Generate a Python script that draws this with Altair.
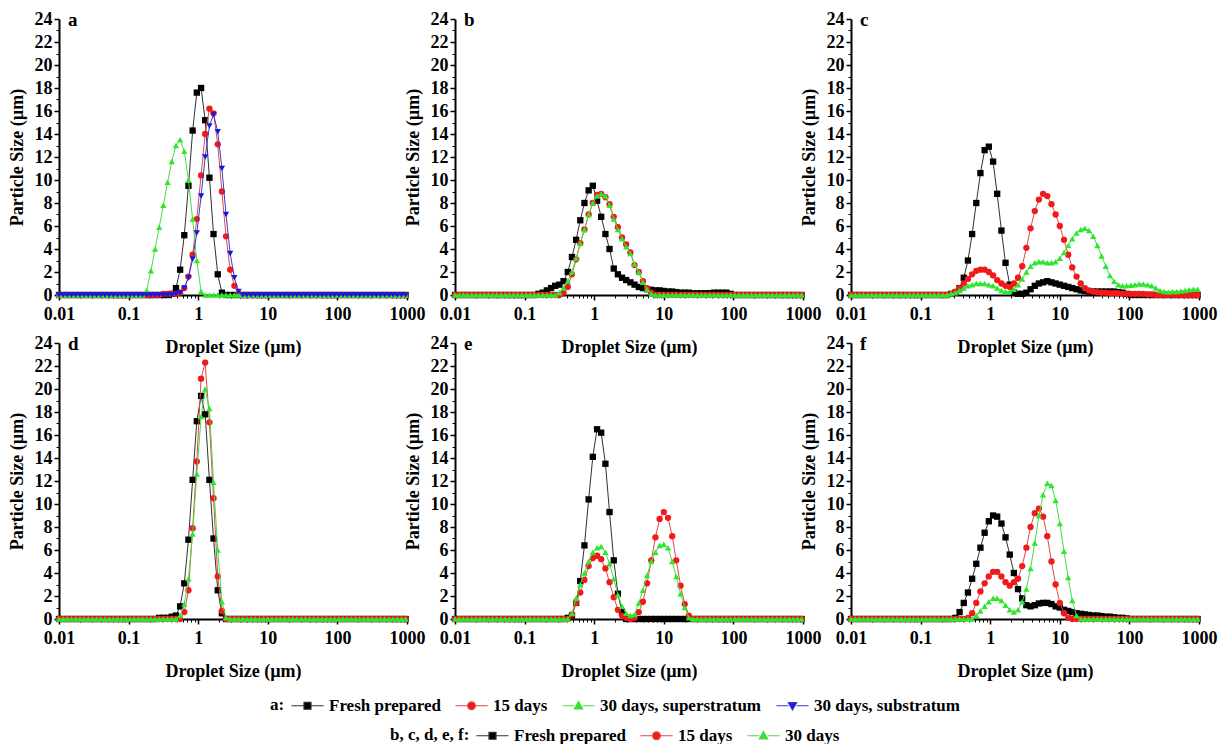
import altair as alt
import pandas as pd

# Droplet size bins (µm), log-spaced
SIZES = [0.0100, 0.0115, 0.0132, 0.0151, 0.0174, 0.0200, 0.0229, 0.0263, 0.0302, 0.0347,
         0.0398, 0.0457, 0.0525, 0.0603, 0.0692, 0.0794, 0.0912, 0.105, 0.120, 0.138,
         0.158, 0.182, 0.209, 0.240, 0.275, 0.316, 0.363, 0.417, 0.479, 0.550,
         0.631, 0.724, 0.832, 0.955, 1.10, 1.26, 1.45, 1.66, 1.91, 2.19,
         2.51, 2.88, 3.31, 3.80, 4.37, 5.01, 5.75, 6.61, 7.59, 8.71,
         10.0, 11.5, 13.2, 15.1, 17.4, 20.0, 22.9, 26.3, 30.2, 34.7,
         39.8, 45.7, 52.5, 60.3, 69.2, 79.4, 91.2, 105, 120, 138,
         158, 182, 209, 240, 275, 316, 363, 417, 479, 550,
         631, 724, 832, 955]

# ---- panel a ----
A_FRESH = [0, 0, 0, 0, 0, 0, 0, 0, 0, 0,
           0, 0, 0, 0, 0, 0, 0, 0, 0, 0,
           0, 0, 0, 0, 0, 0, 0, 0.1, 0.6, 2.2,
           5.2, 9.5, 14.3, 17.6, 18.0, 15.2, 10.2, 5.3, 1.8, 0.2,
           0, 0, 0, 0, 0, 0, 0, 0, 0, 0,
           0, 0, 0, 0, 0, 0, 0, 0, 0, 0,
           0, 0, 0, 0, 0, 0, 0, 0, 0, 0,
           0, 0, 0, 0, 0, 0, 0, 0, 0, 0,
           0, 0, 0, 0]
A_15D = [0, 0, 0, 0, 0, 0, 0, 0, 0, 0,
         0, 0, 0, 0, 0, 0, 0, 0, 0, 0,
         0, 0, 0, 0, 0, 0.1, 0.1, 0.1, 0.1, 0.2,
         0.6, 1.6, 3.5, 6.6, 10.4, 14.0, 16.2, 15.8, 13.1, 9.0,
         5.1, 2.2, 0.8, 0.1, 0, 0, 0, 0, 0, 0,
         0, 0, 0, 0, 0, 0, 0, 0, 0, 0,
         0, 0, 0, 0, 0, 0, 0, 0, 0, 0,
         0, 0, 0, 0, 0, 0, 0, 0, 0, 0,
         0, 0, 0, 0]
A_30SUP = [0, 0, 0, 0, 0, 0, 0, 0, 0, 0,
           0, 0, 0, 0, 0, 0, 0, 0, 0, 0,
           0, 0.4, 2.1, 4.0, 5.9, 7.8, 9.8, 11.6, 13.0, 13.5,
           12.5, 10.0, 6.6, 3.0, 0.3, 0, 0, 0, 0, 0,
           0, 0, 0, 0, 0, 0, 0, 0, 0, 0,
           0, 0, 0, 0, 0, 0, 0, 0, 0, 0,
           0, 0, 0, 0, 0, 0, 0, 0, 0, 0,
           0, 0, 0, 0, 0, 0, 0, 0, 0, 0,
           0, 0, 0, 0]
A_30SUB = [0, 0, 0, 0, 0, 0, 0, 0, 0, 0,
           0, 0, 0, 0, 0, 0, 0, 0, 0, 0,
           0, 0, 0, 0, 0, 0, 0, 0, 0.1, 0.2,
           0.6, 1.5, 3.1, 5.4, 8.6, 12.0, 14.7, 15.7, 14.2, 11.0,
           7.0, 3.6, 1.5, 0.3, 0, 0, 0, 0, 0, 0,
           0, 0, 0, 0, 0, 0, 0, 0, 0, 0,
           0, 0, 0, 0, 0, 0, 0, 0, 0, 0,
           0, 0, 0, 0, 0, 0, 0, 0, 0, 0,
           0, 0, 0, 0]

# ---- panel b ----
B_FRESH = [0, 0, 0, 0, 0, 0, 0, 0, 0, 0,
           0, 0, 0, 0, 0, 0, 0, 0, 0, 0,
           0.1, 0.2, 0.4, 0.6, 0.8, 0.9, 1.2, 2.0, 3.3, 4.8,
           6.5, 8.0, 9.1, 9.5, 8.2, 6.8, 5.3, 4.0, 2.3, 1.8,
           1.5, 1.3, 1.1, 0.9, 0.7, 0.6, 0.5, 0.45, 0.4, 0.4,
           0.35, 0.3, 0.3, 0.25, 0.2, 0.2, 0.2, 0.15, 0.15, 0.15,
           0.15, 0.15, 0.2, 0.2, 0.2, 0.2, 0.1, 0, 0, 0,
           0, 0, 0, 0, 0, 0, 0, 0, 0, 0,
           0, 0, 0, 0]
B_15D = [0, 0, 0, 0, 0, 0, 0, 0, 0, 0,
         0, 0, 0, 0, 0, 0, 0, 0, 0, 0,
         0, 0, 0, 0, 0, 0, 0.2, 0.7, 1.8, 3.1,
         4.5, 5.7, 7.0, 8.0, 8.7, 8.8, 8.5, 7.9, 6.8, 5.9,
         5.0, 4.4, 3.7, 2.6, 2.0, 1.2, 0.6, 0.2, 0, 0,
         0, 0, 0, 0, 0, 0, 0, 0, 0, 0,
         0, 0, 0, 0, 0, 0, 0, 0, 0, 0,
         0, 0, 0, 0, 0, 0, 0, 0, 0, 0,
         0, 0, 0, 0]
B_30D = [0, 0, 0, 0, 0, 0, 0, 0, 0, 0,
         0, 0, 0, 0, 0, 0, 0, 0, 0, 0,
         0, 0, 0, 0, 0, 0.2, 0.6, 1.2, 2.0, 3.2,
         4.5, 5.7, 7.0, 8.0, 8.6, 8.8, 8.6, 7.8, 6.6, 5.7,
         4.9, 4.2, 3.6, 2.7, 2.0, 1.1, 0.5, 0.1, 0, 0,
         0, 0, 0, 0, 0, 0, 0, 0, 0, 0,
         0, 0, 0, 0, 0, 0, 0, 0, 0, 0,
         0, 0, 0, 0, 0, 0, 0, 0, 0, 0,
         0, 0, 0, 0]

# ---- panel c ----
C_FRESH = [0, 0, 0, 0, 0, 0, 0, 0, 0, 0,
           0, 0, 0, 0, 0, 0, 0, 0, 0, 0,
           0, 0, 0, 0, 0.1, 0.2, 0.6, 1.5, 3.0, 5.3,
           8.0, 10.6, 12.6, 12.9, 11.6, 8.8, 5.6, 2.8, 0.9, 0.2,
           0.1, 0.1, 0.2, 0.5, 0.8, 1.0, 1.1, 1.2, 1.1, 1.0,
           0.9, 0.8, 0.7, 0.6, 0.5, 0.4, 0.35, 0.3, 0.3, 0.3,
           0.3, 0.3, 0.3, 0.3, 0.25, 0.2, 0.1, 0, 0, 0,
           0, 0, 0, 0, 0, 0, 0, 0, 0, 0,
           0, 0, 0, 0]
C_15D = [0, 0, 0, 0, 0, 0, 0, 0, 0, 0,
         0, 0, 0, 0, 0, 0, 0, 0, 0, 0,
         0, 0, 0, 0, 0.1, 0.3, 0.6, 1.0, 1.4, 1.8,
         2.1, 2.2, 2.2, 2.0, 1.7, 1.3, 1.0, 0.8, 0.7, 1.0,
         1.5, 2.5, 4.1, 5.8, 7.3, 8.3, 8.8, 8.6, 7.9, 7.0,
         6.0, 4.8, 3.5, 2.4, 1.6, 1.0, 0.6, 0.4, 0.3, 0.25,
         0.2, 0.2, 0.15, 0.15, 0.15, 0.1, 0.1, 0.1, 0.1, 0.1,
         0.1, 0.05, 0.05, 0, 0, 0, 0, 0, 0, 0,
         0, 0, 0, 0]
C_30D = [0, 0, 0, 0, 0, 0, 0, 0, 0, 0,
         0, 0, 0, 0, 0, 0, 0, 0, 0, 0,
         0, 0, 0, 0, 0.1, 0.2, 0.4, 0.6, 0.8, 0.9,
         1.0, 1.0, 1.0, 0.9, 0.8, 0.6, 0.4, 0.3, 0.3, 0.5,
         0.9, 1.4, 2.0, 2.5, 2.8, 2.9, 2.9, 2.8, 2.8, 2.9,
         3.2, 3.7, 4.3, 4.9, 5.4, 5.7, 5.8, 5.6, 5.1, 4.3,
         3.4, 2.5, 1.7, 1.2, 0.9, 0.8, 0.8, 0.85, 0.9, 0.95,
         0.95, 0.9, 0.8, 0.6, 0.4, 0.3, 0.25, 0.3, 0.3, 0.35,
         0.4, 0.45, 0.5, 0.5]

# ---- panel d ----
D_FRESH = [0, 0, 0, 0, 0, 0, 0, 0, 0, 0,
           0, 0, 0, 0, 0, 0, 0, 0, 0, 0,
           0, 0, 0, 0, 0.1, 0.1, 0.1, 0.2, 0.3, 1.1,
           3.1, 6.9, 12.1, 17.2, 19.4, 17.8, 12.1, 7.0, 2.5, 0.5,
           0, 0, 0, 0, 0, 0, 0, 0, 0, 0,
           0, 0, 0, 0, 0, 0, 0, 0, 0, 0,
           0, 0, 0, 0, 0, 0, 0, 0, 0, 0,
           0, 0, 0, 0, 0, 0, 0, 0, 0, 0,
           0, 0, 0, 0]
D_15D = [0, 0, 0, 0, 0, 0, 0, 0, 0, 0,
         0, 0, 0, 0, 0, 0, 0, 0, 0, 0,
         0, 0, 0, 0, 0, 0, 0, 0, 0, 0,
         0.6, 2.5, 7.9, 13.7, 20.9, 22.3, 17.1, 10.5, 3.7, 0.7,
         0, 0, 0, 0, 0, 0, 0, 0, 0, 0,
         0, 0, 0, 0, 0, 0, 0, 0, 0, 0,
         0, 0, 0, 0, 0, 0, 0, 0, 0, 0,
         0, 0, 0, 0, 0, 0, 0, 0, 0, 0,
         0, 0, 0, 0]
D_30D = [0, 0, 0, 0, 0, 0, 0, 0, 0, 0,
         0, 0, 0, 0, 0, 0, 0, 0, 0, 0,
         0, 0, 0, 0, 0, 0, 0, 0, 0, 0.3,
         1.3, 3.5, 7.4, 12.6, 17.6, 20.0, 18.3, 11.9, 6.0, 1.5,
         0.1, 0, 0, 0, 0, 0, 0, 0, 0, 0,
         0, 0, 0, 0, 0, 0, 0, 0, 0, 0,
         0, 0, 0, 0, 0, 0, 0, 0, 0, 0,
         0, 0, 0, 0, 0, 0, 0, 0, 0, 0,
         0, 0, 0, 0]

# ---- panel e ----
E_FRESH = [0, 0, 0, 0, 0, 0, 0, 0, 0, 0,
           0, 0, 0, 0, 0, 0, 0, 0, 0, 0,
           0, 0, 0, 0, 0, 0, 0, 0.1, 0.3, 1.4,
           3.3, 6.4, 10.4, 14.1, 16.5, 16.2, 13.5, 9.3, 5.1, 2.2,
           0.6, 0, 0, 0, 0, 0, 0, 0, 0, 0,
           0, 0, 0, 0, 0, 0, 0, 0, 0, 0,
           0, 0, 0, 0, 0, 0, 0, 0, 0, 0,
           0, 0, 0, 0, 0, 0, 0, 0, 0, 0,
           0, 0, 0, 0]
E_15D = [0, 0, 0, 0, 0, 0, 0, 0, 0, 0,
         0, 0, 0, 0, 0, 0, 0, 0, 0, 0,
         0, 0, 0, 0, 0, 0, 0, 0, 0.4, 1.4,
         2.3, 3.4, 4.6, 5.3, 5.5, 5.2, 4.4, 3.2, 1.9, 0.8,
         0.3, 0.1, 0, 0.1, 0.6, 1.5, 3.1, 5.1, 7.1, 8.7,
         9.3, 8.8, 7.2, 5.1, 2.9, 1.3, 0.3, 0, 0, 0,
         0, 0, 0, 0, 0, 0, 0, 0, 0, 0,
         0, 0, 0, 0, 0, 0, 0, 0, 0, 0,
         0, 0, 0, 0]
E_30D = [0, 0, 0, 0, 0, 0, 0, 0, 0, 0,
         0, 0, 0, 0, 0, 0, 0, 0, 0, 0,
         0, 0, 0, 0, 0, 0, 0, 0, 0.5, 1.8,
         3.0, 4.0, 5.0, 5.8, 6.2, 6.3, 5.8, 4.8, 3.5, 2.1,
         1.1, 0.5, 0.3, 0.4, 1.4, 2.5, 3.8, 5.0, 5.8, 6.4,
         6.5, 6.2, 5.0, 3.7, 2.2, 1.0, 0.1, 0, 0, 0,
         0, 0, 0, 0, 0, 0, 0, 0, 0, 0,
         0, 0, 0, 0, 0, 0, 0, 0, 0, 0,
         0, 0, 0, 0]

# ---- panel f ----
F_FRESH = [0, 0, 0, 0, 0, 0, 0, 0, 0, 0,
           0, 0, 0, 0, 0, 0, 0, 0, 0, 0,
           0, 0, 0, 0, 0, 0.1, 0.6, 1.4, 2.3, 3.5,
           4.8, 6.2, 7.5, 8.5, 9.0, 8.9, 8.3, 7.1, 5.6, 4.0,
           2.6, 1.8, 1.2, 1.1, 1.2, 1.35, 1.4, 1.4, 1.3, 1.1,
           1.0, 0.8, 0.7, 0.6, 0.5, 0.45, 0.4, 0.35, 0.3, 0.3,
           0.25, 0.2, 0.2, 0.15, 0.1, 0.1, 0.05, 0, 0, 0,
           0, 0, 0, 0, 0, 0, 0, 0, 0, 0,
           0, 0, 0, 0]
F_15D = [0, 0, 0, 0, 0, 0, 0, 0, 0, 0,
         0, 0, 0, 0, 0, 0, 0, 0, 0, 0,
         0, 0, 0, 0, 0, 0, 0, 0, 0.1, 0.5,
         1.4, 2.4, 3.1, 3.7, 4.1, 4.1, 3.7, 3.2, 2.9, 3.2,
         3.5, 4.6, 6.2, 8.0, 9.2, 9.6, 8.9, 7.2, 5.0, 3.0,
         1.4, 0.5, 0.1, 0, 0, 0, 0, 0, 0, 0,
         0, 0, 0, 0, 0, 0, 0, 0, 0, 0,
         0, 0, 0, 0, 0, 0, 0, 0, 0, 0,
         0, 0, 0, 0]
F_30D = [0, 0, 0, 0, 0, 0, 0, 0, 0, 0,
         0, 0, 0, 0, 0, 0, 0, 0, 0, 0,
         0, 0, 0, 0, 0, 0, 0, 0, 0, 0,
         0.3, 0.7, 1.1, 1.5, 1.8, 1.8, 1.6, 1.2, 0.8, 0.6,
         0.8, 1.5, 2.6, 4.4, 6.6, 9.0, 10.8, 11.8, 11.6, 10.3,
         8.3, 5.9, 3.6, 1.6, 0.3, 0, 0, 0, 0, 0,
         0, 0, 0, 0, 0, 0, 0, 0, 0, 0,
         0, 0, 0, 0, 0, 0, 0, 0, 0, 0,
         0, 0, 0, 0]

NAMES_A = ["Fresh prepared", "15 days", "30 days, superstratum", "30 days, substratum"]
NAMES_B = ["Fresh prepared", "15 days", "30 days"]
MARK_COLORS = ["#000000", "#f01a1a", "#2ee62e", "#1818d8"]
LINE_COLORS = ["#303030", "#e04848", "#46dc46", "#3a3ad0"]
SHAPES = ["square", "circle", "triangle-up", "triangle-down"]
LEGEND_PATHS = [
    "M-2.3,0H-0.5M0.5,0H2.3M-0.5,-0.5H0.5V0.5H-0.5Z",
    "M-2.3,0H-0.55M0.55,0H2.3M-0.55,0A0.55,0.55,0,1,0,0.55,0A0.55,0.55,0,1,0,-0.55,0Z",
    "M-2.3,0H-0.6M0.6,0H2.3M0,-0.6L0.6,0.45H-0.6Z",
    "M-2.3,0H-0.6M0.6,0H2.3M0,0.6L0.6,-0.45H-0.6Z",
]

FONT = "Liberation Serif, Times New Roman, DejaVu Serif, serif"
X_SCALE = alt.Scale(type="log", domain=[0.01, 1000], nice=False)
Y_SCALE = alt.Scale(domain=[0, 24], nice=False, zero=True)
X_MAJOR = [0.01, 0.1, 1, 10, 100, 1000]
X_MINOR = [m * d for d in [0.01, 0.1, 1, 10, 100] for m in range(2, 10)]
Y_MAJOR = list(range(0, 25, 2))
Y_MINOR = list(range(1, 24, 2))


def make_df(names, series):
    rows = []
    for name, ys in zip(names, series):
        assert len(ys) == len(SIZES), name
        for x, y in zip(SIZES, ys):
            rows.append({"size": x, "value": y, "series": name})
    return pd.DataFrame(rows)


def legend_layer(df, names, title, lx, ly):
    n = len(names)
    leg = alt.Legend(title=title, orient="none", legendX=lx, legendY=ly,
                     direction="horizontal", columns=n, titleOrient="left",
                     titleFont=FONT, titleFontSize=17, titleFontWeight="bold",
                     titleColor="black", titlePadding=14, titleBaseline="middle",
                     labelFont=FONT, labelFontSize=17, labelFontWeight="bold",
                     labelColor="black", labelOffset=13, labelLimit=400,
                     columnPadding=12, symbolSize=196, symbolStrokeWidth=1.2,
                     symbolOpacity=1)
    return alt.Chart(df).transform_filter("false").mark_point(opacity=1).encode(
        fill=alt.Fill("series:N", scale=alt.Scale(domain=names, range=MARK_COLORS[:n]), legend=leg),
        stroke=alt.Stroke("series:N", scale=alt.Scale(domain=names, range=LINE_COLORS[:n]), legend=leg),
        shape=alt.Shape("series:N", scale=alt.Scale(domain=names, range=LEGEND_PATHS[:n]), legend=leg),
    )


def make_panel(letter, names, series, extra=None):
    df = make_df(names, series)
    base = alt.Chart(df)
    main_axes = base.transform_filter("false").mark_point(opacity=0).encode(
        x=alt.X("size:Q", scale=X_SCALE, axis=alt.Axis(
            orient="bottom", values=X_MAJOR, format="~g", title="Droplet Size (µm)",
            tickSize=5, tickWidth=1.5, domainWidth=2, labelPadding=5, titlePadding=15,
            labelFlush=False, labelOverlap=False, grid=False)),
        y=alt.Y("value:Q", scale=Y_SCALE, axis=alt.Axis(
            orient="left", values=Y_MAJOR, title="Particle Size (µm)",
            tickSize=5, tickWidth=1.5, domainWidth=2, labelPadding=2, titlePadding=8,
            labelFlush=False, labelOverlap=False, grid=False)),
    )
    minor_axes = base.transform_filter("false").mark_point(opacity=0).encode(
        x=alt.X("size:Q", scale=X_SCALE, title=None, axis=alt.Axis(
            orient="bottom", values=X_MINOR, labels=False, domain=False,
            tickSize=3, tickWidth=1, grid=False)),
        y=alt.Y("value:Q", scale=Y_SCALE, title=None, axis=alt.Axis(
            orient="left", values=Y_MINOR, labels=False, domain=False,
            tickSize=3, tickWidth=1, grid=False)),
    )
    layers = [main_axes, minor_axes]
    for i, name in enumerate(names):
        sub = base.transform_filter(alt.datum.series == name)
        enc = dict(x=alt.X("size:Q", scale=X_SCALE, axis=None),
                   y=alt.Y("value:Q", scale=Y_SCALE, axis=None))
        layers.append(sub.mark_line(color=LINE_COLORS[i], strokeWidth=1).encode(**enc))
        layers.append(sub.mark_point(shape=SHAPES[i], filled=True, color=MARK_COLORS[i],
                                     size=40, opacity=1).encode(**enc))
    if extra is not None:
        layers.append(extra(df))
    return alt.layer(*layers).resolve_axis(x="independent", y="independent").properties(
        width=348, height=276,
        title=alt.TitleParams(letter, anchor="start", frame="group", dx=9, dy=20, offset=0,
                              font=FONT, fontSize=19, fontWeight="bold", color="black"),
    )


pa = make_panel("a", NAMES_A, [A_FRESH, A_15D, A_30SUP, A_30SUB])
pb = make_panel("b", NAMES_B, [B_FRESH, B_15D, B_30D])
pc = make_panel("c", NAMES_B, [C_FRESH, C_15D, C_30D])
pd_ = make_panel("d", NAMES_B, [D_FRESH, D_15D, D_30D],
                 extra=lambda df: legend_layer(make_df(NAMES_A, [A_FRESH, A_15D, A_30SUP, A_30SUB]),
                                               NAMES_A, "a:", 211, 354))
pe = make_panel("e", NAMES_B, [E_FRESH, E_15D, E_30D],
                extra=lambda df: legend_layer(df, NAMES_B, "b, c, d, e, f:", -65, 384))
pf = make_panel("f", NAMES_B, [F_FRESH, F_15D, F_30D])

chart = alt.concat(pa, pb, pc, pd_, pe, pf, columns=3, spacing=48, bounds="flush").resolve_scale(
    fill="independent", stroke="independent", shape="independent"
).properties(
    padding={"left": 8, "top": 10, "right": 5, "bottom": 5},
    background="white",
).configure(font=FONT).configure_view(stroke=None).configure_axis(
    labelFont=FONT, labelFontSize=18, labelFontWeight="bold", labelColor="black",
    titleFont=FONT, titleFontSize=18, titleFontWeight="bold", titleColor="black",
    domainColor="black", tickColor="black",
)

chart.save("out.html", embed_options={"renderer": "svg", "actions": False})
